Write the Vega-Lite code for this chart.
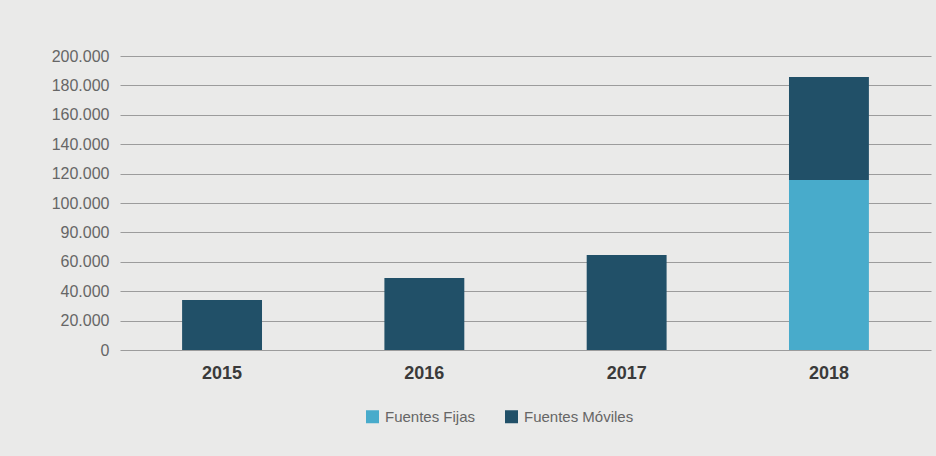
{
  "$schema": "https://vega.github.io/schema/vega-lite/v6.json",
  "width": 811,
  "height": 294,
  "autosize": {"type": "none"},
  "padding": {"left": 120, "top": 56, "right": 5, "bottom": 106},
  "background": "#eaeae9",
  "config": {
    "view": {"stroke": null},
    "font": "Liberation Sans",
    "axis": {"labelFont": "Liberation Sans"},
    "legend": {"labelFont": "Liberation Sans"}
  },
  "data": {
    "values": [
      {"anio": "2015", "fuente": "Fuentes Móviles", "valor": 34000},
      {"anio": "2016", "fuente": "Fuentes Móviles", "valor": 49000},
      {"anio": "2017", "fuente": "Fuentes Móviles", "valor": 64600},
      {"anio": "2018", "fuente": "Fuentes Fijas", "valor": 115600},
      {"anio": "2018", "fuente": "Fuentes Móviles", "valor": 70100}
    ]
  },
  "mark": {"type": "bar"},
  "encoding": {
    "x": {
      "field": "anio",
      "type": "nominal",
      "scale": {"paddingInner": 0.605, "paddingOuter": 0.307},
      "axis": {
        "title": null,
        "labelAngle": 0,
        "ticks": false,
        "domain": false,
        "labelFontSize": 18,
        "labelFontWeight": "bold",
        "labelColor": "#3a3a3a",
        "labelPadding": 14
      }
    },
    "y": {
      "field": "valor",
      "type": "quantitative",
      "stack": "zero",
      "scale": {"domain": [0, 200000], "nice": false},
      "axis": {
        "title": null,
        "values": [0, 20000, 40000, 60000, 80000, 100000, 120000, 140000, 160000, 180000, 200000],
        "labelExpr": "datum.value == 80000 ? '90.000' : replace(format(datum.value, ','), ',', '.')",
        "ticks": false,
        "domain": false,
        "grid": true,
        "gridColor": "#9c9c9c",
        "gridWidth": 1,
        "labelFontSize": 16,
        "labelColor": "#666666",
        "labelPadding": 11
      }
    },
    "order": {"field": "fuente", "sort": "ascending"},
    "color": {
      "field": "fuente",
      "type": "nominal",
      "scale": {"domain": ["Fuentes Fijas", "Fuentes Móviles"], "range": ["#48abcb", "#215068"]},
      "legend": {
        "title": null,
        "orient": "none",
        "direction": "horizontal",
        "legendX": 245,
        "legendY": 353,
        "symbolType": "square",
        "symbolSize": 169,
        "symbolStrokeWidth": 0,
        "symbolOpacity": 1,
        "labelFontSize": 15,
        "labelColor": "#666666",
        "labelOffset": 5,
        "columnPadding": 28,
        "padding": 0
      }
    }
  }
}
